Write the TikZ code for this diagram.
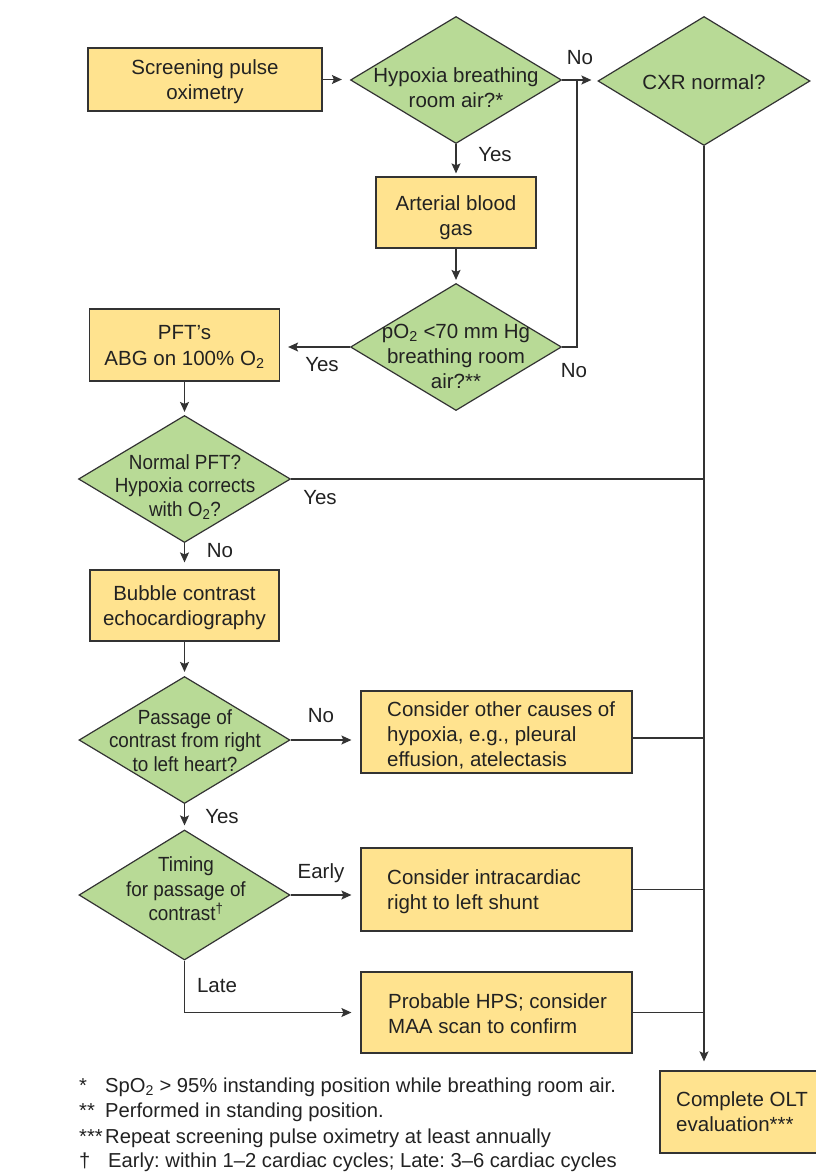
\documentclass[tikz,border=0pt]{standalone}
\usepackage{fontspec}
\setmainfont{Liberation Sans}
\newfontfamily\condf{Liberation Sans}[FakeStretch=0.92]
\usetikzlibrary{arrows.meta,shapes.geometric,calc}
\definecolor{boxy}{HTML}{FFE38F}
\definecolor{diag}{HTML}{B8DA96}
\definecolor{lnc}{HTML}{333333}
\definecolor{tx}{HTML}{222222}
\frenchspacing
\tikzset{
 box/.style={draw=lnc, line width=1.2pt, fill=boxy, rectangle, inner sep=0pt},
 dia/.style={draw=lnc, line width=1.2pt, fill=diag, diamond, inner sep=0pt},
 txt/.style={text=tx, font=\frenchspacing\fontsize{20.5}{25}\selectfont, align=center, inner sep=0pt},
 ctxt/.style={text=tx, font=\frenchspacing\condf\fontsize{20.5}{23.5}\selectfont, align=center, inner sep=0pt},
 ltxt/.style={txt, align=left, anchor=west},
 fn/.style={text=tx, font=\frenchspacing\fontsize{20.2}{25}\selectfont, anchor=west, inner sep=0pt, text height=15pt, text depth=4pt},
 arr/.style={draw=lnc, line width=1.2pt, -{Stealth[length=10pt,width=9pt,inset=2pt]}, shorten >=6pt},
 plain/.style={draw=lnc, line width=1.2pt},
}
\begin{document}
\begin{tikzpicture}[x=1pt,y=-1pt]
\useasboundingbox (0,0) rectangle (815,1172);
\fill[white] (0,0) rectangle (815,1172);

% nodes
\node[box, minimum width=234pt, minimum height=63pt] (b1) at (205,79.5) {};
\node[txt] (b1t) at (205,81.5) {Screening pulse\\oximetry};
\node[dia, minimum width=211pt, minimum height=127pt] (d1) at (456,80) {};
\node[txt] (d1t) at (456,88) {Hypoxia breathing\\room air?*};
\node[dia, minimum width=212pt, minimum height=129pt] (cxr) at (704,81) {};
\node[txt] (cxrt) at (704,82) {CXR normal?};
\node[box, minimum width=160pt, minimum height=71pt] (b2) at (456,212.5) {};
\node[txt] (b2t) at (456,218) {Arterial blood\\gas};
\node[dia, minimum width=211pt, minimum height=127pt] (d2) at (456,347) {};
\node[txt] (d2t) at (456,356.5) {pO\textsubscript{2} <70 mm Hg\\breathing room\\air?**};
\node[box, minimum width=190pt, minimum height=72pt] (b3) at (184.5,345) {};
\node[txt] (b3t) at (184.5,347) {PFT’s\\ABG on 100\% O\textsubscript{2}};
\node[dia, minimum width=212pt, minimum height=127pt] (d3) at (184.5,479) {};
\node[ctxt] (d3t) at (185,487) {Normal PFT?\\Hypoxia corrects\\with O\textsubscript{2}?};
\node[box, minimum width=189pt, minimum height=71pt] (b4) at (184.5,605.5) {};
\node[txt] (b4t) at (184.5,607.5) {Bubble contrast\\echocardiography};
\node[dia, minimum width=211pt, minimum height=127pt] (d4) at (184.5,740) {};
\node[ctxt] (d4t) at (185,740.5) {Passage of\\contrast from right\\to left heart?};
\node[box, minimum width=271pt, minimum height=82pt] (b5) at (496.5,732) {};
\node[ltxt] (b5t) at (387,735) {Consider other causes of\\hypoxia, e.g., pleural\\effusion, atelectasis};
\node[dia, minimum width=211pt, minimum height=130pt] (d5) at (184.5,895) {};
\node[ctxt, font=\frenchspacing\condf\fontsize{20.5}{24.5}\selectfont] (d5t) at (186,889) {Timing\\for passage of\\contrast\textsuperscript{†}};
\node[box, minimum width=271pt, minimum height=83pt] (b6) at (496.5,889.5) {};
\node[ltxt] (b6t) at (387,891.5) {Consider intracardiac\\right to left shunt};
\node[box, minimum width=271pt, minimum height=81pt] (b7) at (496.5,1012.5) {};
\node[ltxt] (b7t) at (388,1014) {Probable HPS; consider\\MAA scan to confirm};
\node[box, minimum width=164pt, minimum height=82pt] (b8) at (742,1112) {};
\node[ltxt] (b8t) at (676,1112) {Complete OLT\\evaluation***};

% connectors
\coordinate (j1) at (577,80);
\draw[arr, shorten >=8pt] (b1.east) -- (b1.east -| d1.west);
\draw[arr] (d1.east) -- (d1.east -| cxr.west);
\draw[plain] (d2.east) -| (j1);
\draw[arr, shorten >=3pt] (d1.south) -- (b2.north);
\draw[arr, shorten >=3pt] (b2.south) -- (d2.north);
\draw[arr, shorten >=8pt] (d2.west) -- (d2.west -| b3.east);
\draw[arr, shorten >=3pt] (b3.south) -- (d3.north);
\draw[arr, shorten >=7pt] (d3.south) -- (b4.north);
\draw[arr, shorten >=4pt] (b4.south) -- (d4.north);
\draw[arr, shorten >=9pt] (d4.east) -- (d4.east -| b5.west);
\draw[arr, shorten >=4pt] (d4.south) -- (d5.north);
\draw[arr, shorten >=9pt] (d5.east) -- (d5.east -| b6.west);
\draw[arr, shorten >=9pt] (d5.south) |- (b7.west);
\draw[arr, shorten >=9pt] (cxr.south) -- (cxr.south |- b8.north);
\draw[plain] (d3.east) -- (d3.east -| cxr.south);
\draw[plain] ([yshift=-6pt]b5.east) -- ([yshift=-6pt]b5.east -| cxr.south);
\draw[plain] (b6.east) -- (b6.east -| cxr.south);
\draw[plain] (b7.east) -- (b7.east -| cxr.south);

% branch labels
\node[txt] (l1) at (580,58) {No};
\node[txt] (l2) at (495,155) {Yes};
\node[txt] (l3) at (322,365) {Yes};
\node[txt] (l4) at (574,371) {No};
\node[txt] (l5) at (320,498) {Yes};
\node[txt] (l6) at (220,551) {No};
\node[txt] (l7) at (321,716) {No};
\node[txt] (l8) at (222,817) {Yes};
\node[txt] (l9) at (321,873) {Early};
\node[txt] (l10) at (217,986) {Late};

% footnotes
\node[fn] (f1m) at (79,1087) {*};
\node[fn] (f1) at (105,1087) {SpO\textsubscript{2} > 95\% instanding position while breathing room air.};
\node[fn] (f2m) at (79,1112) {**};
\node[fn] (f2) at (105,1112) {Performed in standing position.};
\node[fn] (f3m) at (79,1138) {***};
\node[fn] (f3) at (105,1138) {Repeat screening pulse oximetry at least annually};
\node[fn] (f4m) at (79,1162) {†};
\node[fn] (f4) at (108,1162) {Early: within 1–2 cardiac cycles; Late: 3–6 cardiac cycles};
\end{tikzpicture}
\end{document}
